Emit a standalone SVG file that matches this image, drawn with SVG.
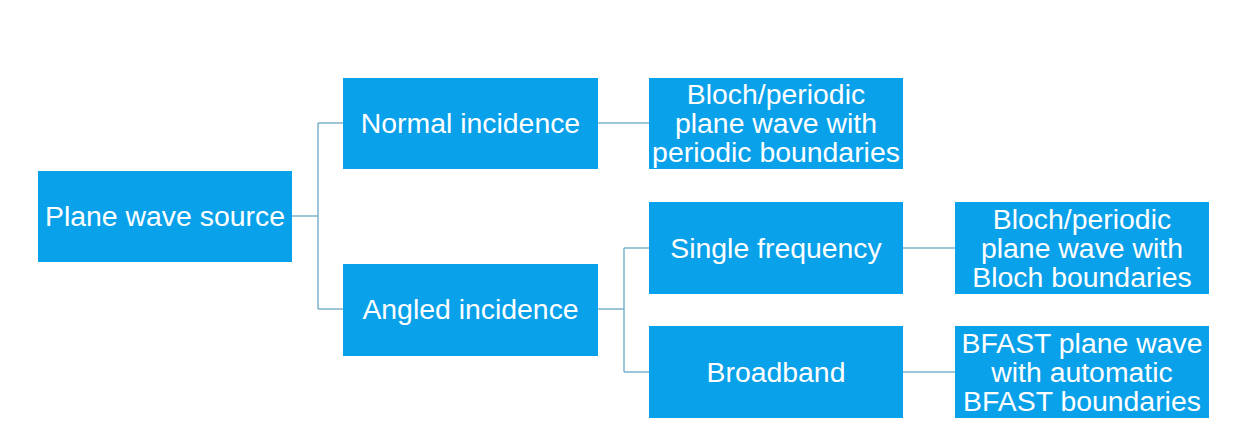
<svg xmlns="http://www.w3.org/2000/svg" width="1250" height="441" viewBox="0 0 1250 441">
<style>
.box{fill:#0AA1EB}
.t{fill:#FFFFFF;font-family:"Liberation Sans",Arial,sans-serif;font-size:28.4px;text-anchor:middle}
.c{fill:none;stroke:#7DB3CC;stroke-width:1.5}
</style>
<rect width="1250" height="441" fill="#FFFFFF"/>
<g id="connectors">
<path class="c" d="M292,216 H318 M318,123 V309 M318,123 H343 M318,309 H343"/>
<path class="c" d="M598,123 H649"/>
<path class="c" d="M598,309 H624 M624,248 V372 M624,248 H649 M624,372 H649"/>
<path class="c" d="M903,248 H955 M903,372 H955"/>
</g>
<g id="plane-wave-source"><rect class="box" x="38" y="171" width="254" height="91"/><text class="t" x="165" y="226">Plane wave source</text></g>
<g id="normal-incidence"><rect class="box" x="343" y="78" width="255" height="91"/><text class="t" x="470.5" y="133">Normal incidence</text></g>
<g id="angled-incidence"><rect class="box" x="343" y="264" width="255" height="92"/><text class="t" x="470.5" y="319">Angled incidence</text></g>
<g id="bloch-periodic-normal"><rect class="box" x="649" y="78" width="254" height="91"/><text class="t" x="776" y="104">Bloch/periodic</text><text class="t" x="776" y="133">plane wave with</text><text class="t" x="776" y="162">periodic boundaries</text></g>
<g id="single-frequency"><rect class="box" x="649" y="202" width="254" height="92"/><text class="t" x="776" y="258">Single frequency</text></g>
<g id="broadband"><rect class="box" x="649" y="326" width="254" height="92"/><text class="t" x="776" y="382">Broadband</text></g>
<g id="bloch-periodic-angled"><rect class="box" x="955" y="202" width="254" height="92"/><text class="t" x="1082" y="229">Bloch/periodic</text><text class="t" x="1082" y="258">plane wave with</text><text class="t" x="1082" y="287">Bloch boundaries</text></g>
<g id="bfast"><rect class="box" x="955" y="326" width="254" height="92"/><text class="t" x="1082" y="353">BFAST plane wave</text><text class="t" x="1082" y="382">with automatic</text><text class="t" x="1082" y="411">BFAST boundaries</text></g>
</svg>
